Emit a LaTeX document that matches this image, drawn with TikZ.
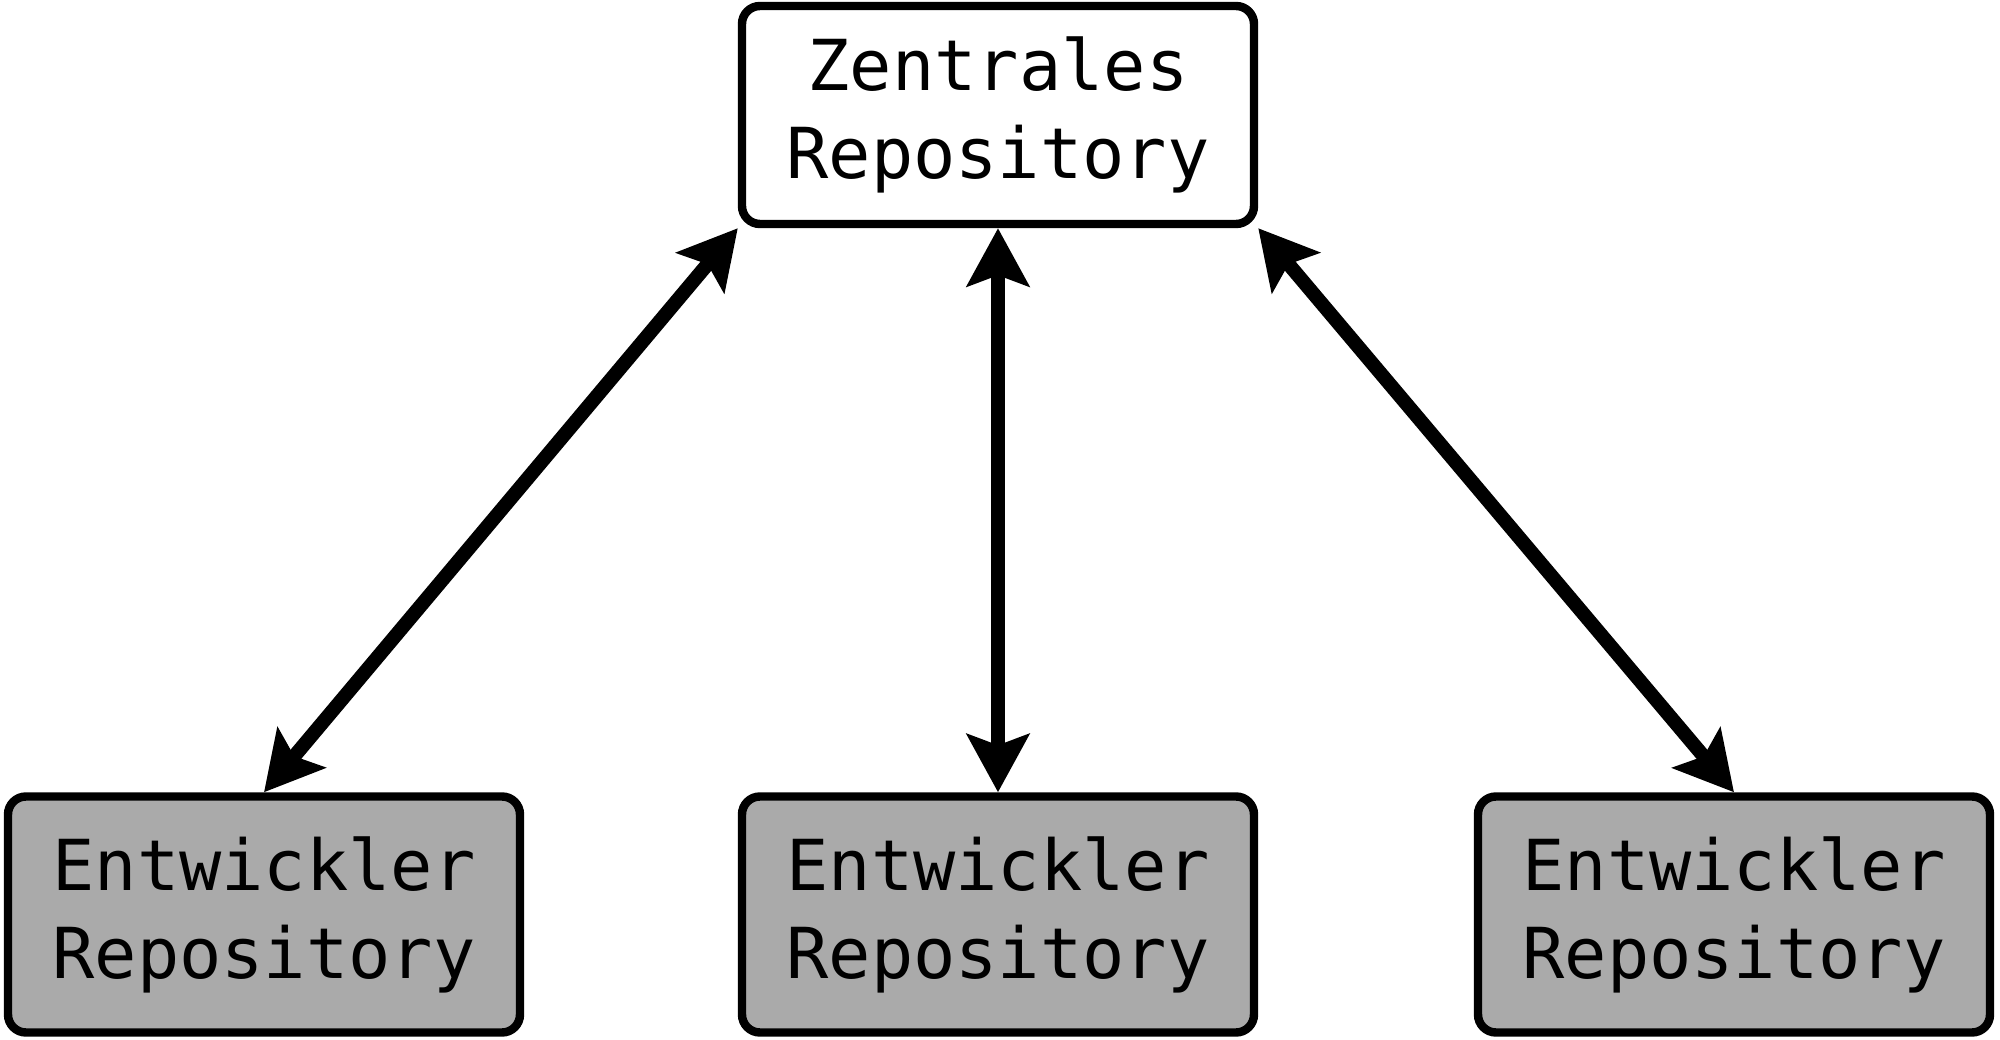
\documentclass[tikz,border=0pt]{standalone}
\usepackage{fontspec}
\setmainfont{DejaVu Sans Mono}
\usepackage{tikz}
\usetikzlibrary{arrows.meta}
\definecolor{devgray}{RGB}{170,170,170}

\begin{document}
\begin{tikzpicture}[
    repo/.style={rectangle, rounded corners=0.18cm, draw=black, line width=2.4pt, minimum width=5.12cm, align=center, font=\fontsize{20}{25}\selectfont, inner sep=0pt},
    central/.style={repo, fill=white, minimum height=2.18cm},
    devrepo/.style={repo, fill=devgray, minimum height=2.36cm},
    sync/.style={{Stealth[length=5.8mm, width=6.2mm, inset=1.1mm]}-{Stealth[length=5.8mm, width=6.2mm, inset=1.1mm]}, line width=4pt}
]
\useasboundingbox (0,0) rectangle (20,-10.4);

% Nodes
\node[central] (zentral) at (9.98, -1.15) {Zentrales\\Repository};
\node[devrepo] (dev1) at (2.64, -9.145) {Entwickler\\Repository};
\node[devrepo] (dev2) at (9.98, -9.145) {Entwickler\\Repository};
\node[devrepo] (dev3) at (17.34, -9.145) {Entwickler\\Repository};

% Edges
\draw[sync] (zentral.south west) -- (dev1.north);
\draw[sync] (zentral.south) -- (dev2.north);
\draw[sync] (zentral.south east) -- (dev3.north);

\end{tikzpicture}
\end{document}
